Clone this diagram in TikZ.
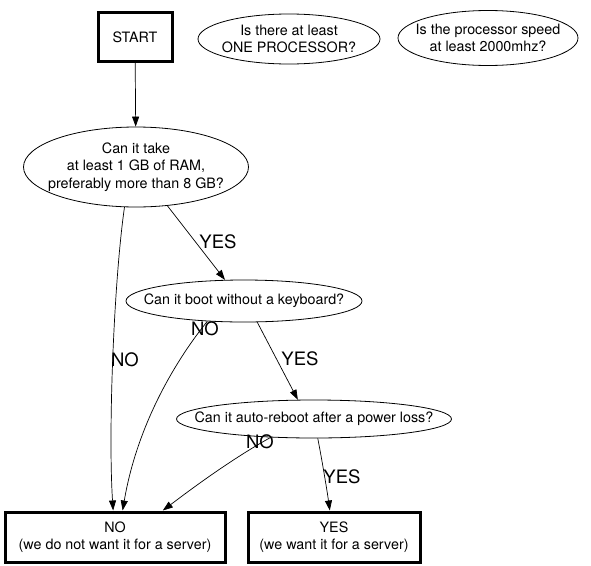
\documentclass[tikz,border=0pt]{standalone}
\usepackage{fontspec}
\setmainfont{TeX Gyre Heros}
\usetikzlibrary{shapes.geometric,arrows.meta,calc}
\begin{document}
\begin{tikzpicture}[x=1pt,y=-1pt,
  every node/.style={font=\fontsize{14.3}{17.5}\selectfont, align=center},
  box/.style={draw, line width=3pt, inner sep=0pt},
  oval/.style={draw, ellipse, line width=0.8pt, inner sep=0pt},
  arr/.style={draw, line width=0.7pt, -{Triangle[length=10pt,width=7pt]}},
  lab/.style={font=\fontsize{18.5}{20}\selectfont}]
\useasboundingbox (0,0) rectangle (591,565);
\node[box, minimum width=74pt, minimum height=49pt] (start) at (135,37) {START};
\node[oval, minimum width=182pt, minimum height=50pt] (p1) at (289,39) {};
\node (p1t) at (p1.center) {Is there at least\\ONE PROCESSOR?};
\node[oval, minimum width=180pt, minimum height=55pt] (p2) at (488,38) {};
\node (p2t) at (p2.center) {Is the processor speed\\at least 2000mhz?};
\node[oval, minimum width=225pt, minimum height=80pt] (ram) at (136,167) {};
\node (ramt) at (ram.center) {Can it take\\at least 1 GB of RAM,\\preferably more than 8 GB?};
\node[oval, minimum width=236pt, minimum height=42pt] (boot) at (244,301) {};
\node (boott) at (boot.center) {Can it boot without a keyboard?};
\node[oval, minimum width=275pt, minimum height=38pt] (auto) at (314,419) {};
\node (autot) at (auto.center) {Can it auto-reboot after a power loss?};
\node[box, minimum width=220pt, minimum height=50pt] (no) at (115,537) {NO\\(we do not want it for a server)};
\node[box, minimum width=172pt, minimum height=50pt] (yes) at (334,537) {YES\\(we want it for a server)};

\draw[arr] (start) -- (ram);
\draw[arr] (ram.309.5) -- (boot.132.3);
\draw[arr] (ram.254.6) .. controls (114,280) and (108,430) .. (no.94.6);
\draw[arr] (boot.209.6) .. controls (180,355) and (138,420) .. (no.74.4);
\draw[arr] (boot.302.5) -- (auto.130.6);
\draw[arr] (auto.203.2) .. controls (230,460) and (190,490) .. (no.29);
\draw[arr] (auto.281.3) .. controls (322,460) and (327,490) .. (yes.99);

\node[lab] (l1) at (218,242) {YES};
\node[lab] (l2) at (125,360) {NO};
\node[lab] (l3) at (205,329) {NO};
\node[lab] (l4) at (300,359) {YES};
\node[lab] (l5) at (260,442) {NO};
\node[lab] (l6) at (342,477) {YES};
\end{tikzpicture}
\end{document}
